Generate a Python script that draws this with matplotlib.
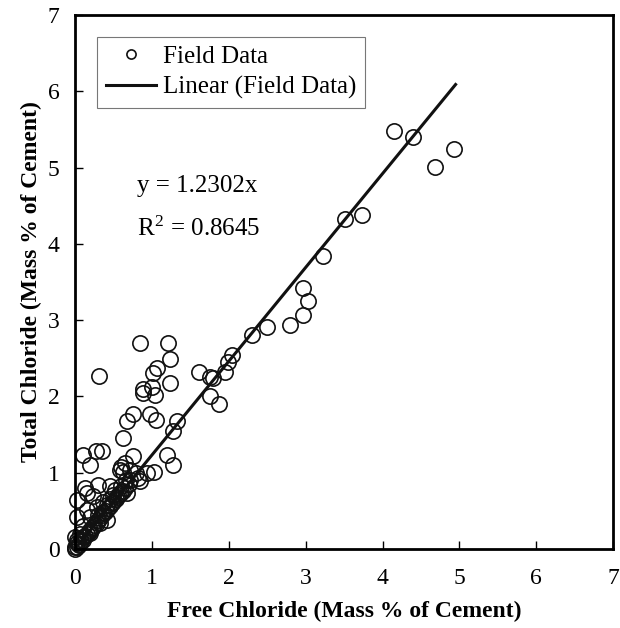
import numpy as np
import matplotlib.pyplot as plt

plt.rcParams['font.family'] = ['Liberation Serif', 'DejaVu Serif']
plt.rcParams['mathtext.fontset'] = 'stix'

# free chloride vs total chloride (mass % of cement)
free_cl = [4.15, 4.40, 4.93, 4.68, 3.51, 3.73, 3.23, 2.96, 3.03, 2.96, 2.79, 2.50, 2.30,
           2.04, 1.99, 1.95, 1.61, 1.76, 1.79, 1.75, 1.87,
           0.84, 1.21, 1.24, 0.31, 1.06, 1.02, 1.24, 0.89, 0.89, 1.00, 1.04, 0.75, 0.68,
           0.98, 1.05, 1.32, 1.27, 0.62, 0.10, 0.19, 0.27, 0.35, 0.76, 0.60, 0.63, 0.71,
           1.19, 1.27, 1.03, 0.93, 0.84, 0.79, 0.65, 0.58, 0.82, 0.67,
           0.02, 0.13, 0.16, 0.30, 0.24, 0.02, 0.15, 0.37, 0.45, 0.52, 0.60, 0.56, 0.37,
           0.28, 0.41, 0.32, 0.24, 0.19, 0.11, 0.02, 0.00, 0.05,
           0.05, 0.08, 0.10, 0.13, 0.15, 0.18, 0.20, 0.22, 0.25, 0.28, 0.30, 0.33, 0.35,
           0.38, 0.40, 0.43, 0.45, 0.48, 0.50, 0.53, 0.55, 0.58, 0.62, 0.65, 0.70, 0.72,
           0.00, 0.02, 0.03, 0.00, 0.06, 0.10, 0.20, 0.30, 0.42, 0.50, 0.60, 0.66, 0.46]
total_cl = [5.48, 5.40, 5.24, 5.01, 4.33, 4.38, 3.84, 3.42, 3.25, 3.07, 2.94, 2.91, 2.80,
            2.54, 2.45, 2.32, 2.32, 2.26, 2.24, 2.01, 1.90,
            2.70, 2.70, 2.49, 2.27, 2.37, 2.31, 2.18, 2.10, 2.04, 2.12, 2.02, 1.77, 1.68,
            1.77, 1.69, 1.68, 1.55, 1.45, 1.23, 1.10, 1.28, 1.28, 1.22, 1.08, 1.01, 1.04,
            1.23, 1.10, 1.01, 0.99, 0.89, 0.99, 1.13, 1.04, 0.93, 0.73,
            0.64, 0.80, 0.73, 0.84, 0.69, 0.42, 0.51, 0.49, 0.82, 0.77, 0.82, 0.71, 0.62,
            0.55, 0.38, 0.34, 0.29, 0.21, 0.16, 0.12, 0.03, 0.05,
            0.07, 0.10, 0.12, 0.17, 0.19, 0.22, 0.25, 0.27, 0.31, 0.34, 0.38, 0.41, 0.44,
            0.47, 0.50, 0.53, 0.56, 0.60, 0.62, 0.66, 0.68, 0.72, 0.76, 0.80, 0.85, 0.90,
            0.00, 0.02, 0.08, 0.15, 0.20, 0.30, 0.42, 0.45, 0.58, 0.70, 0.75, 0.90, 0.65]

slope = 1.2302
fit_x = [0, 4.95]

fig = plt.figure(figsize=(6.2, 6.28), dpi=100)
ax = fig.add_axes([0.121, 0.126, 0.868, 0.85])

ax.plot(free_cl, total_cl, 'o', ms=11, mfc='none', mec='#111111', mew=1.2,
        label='Field Data', clip_on=False)
ax.plot(fit_x, [slope * v for v in fit_x], color='#111111', lw=2.2,
        label='Linear (Field Data)')

ax.set_xlim(0, 7)
ax.set_ylim(0, 7)
ax.set_xticks(range(8))
ax.set_yticks(range(8))
ax.tick_params(direction='in', length=6, width=1, labelsize=17)
ax.tick_params(axis='x', pad=14)
ax.tick_params(axis='y', pad=11)
for s in ax.spines.values():
    s.set_linewidth(2)

ax.set_xlabel('Free Chloride (Mass % of Cement)', fontsize=17, fontweight='bold', labelpad=8)
ax.set_ylabel('Total Chloride (Mass % of Cement)', fontsize=17, fontweight='bold', labelpad=4)

ax.text(0.80, 4.76, 'y = 1.2302x', fontsize=18, va='center')
ax.text(0.80, 4.2, 'R$^{\\mathregular{2}}$ = 0.8645', fontsize=18, va='center')

leg = ax.legend(loc='upper left', bbox_to_anchor=(0.041, 0.959), fontsize=18,
                fancybox=False, frameon=True, handlelength=2.0, handletextpad=0.3,
                borderpad=0.35, labelspacing=0.3, markerscale=0.6,
                borderaxespad=0)
leg.get_frame().set_edgecolor('#555555')
leg.get_frame().set_linewidth(0.8)

fig.savefig('out.png', dpi=100)
